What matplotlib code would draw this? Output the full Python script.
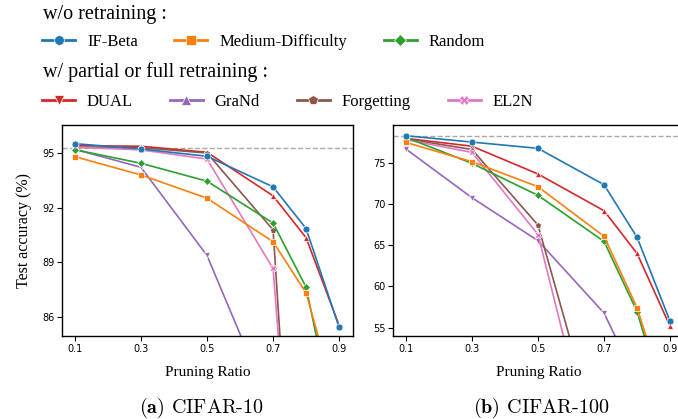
import matplotlib
matplotlib.use("Agg")
import matplotlib.pyplot as plt
from matplotlib.lines import Line2D

# ---------------- data ----------------
ratios = [0.1, 0.3, 0.5, 0.7, 0.8, 0.9]
xticks = [0.1, 0.3, 0.5, 0.7, 0.9]

# CIFAR-10
c10_ifbeta = [95.49, 95.20, 94.80, 93.13, 90.85, 85.45]
c10_medium = [94.78, 93.78, 92.51, 90.13, 87.33, 80.9]
c10_random = [95.16, 94.42, 93.44, 91.15, 87.65, 79.0]
c10_dual = [95.38, 95.35, 95.02, 92.64, 90.35, 85.55]
c10_grand = [95.18, 94.20, 89.38, 80.8, 76.0, 70.0]
c10_forget = [95.30, 95.27, 94.98, 90.78, 63.0, 55.0]
c10_el2n = [95.30, 95.15, 94.65, 88.67, 65.8, 56.0]
c10_full = 95.24

# CIFAR-100
c100_ifbeta = [78.27, 77.50, 76.74, 72.33, 65.95, 55.77]
c100_medium = [77.46, 75.12, 72.09, 66.07, 57.42, 44.7]
c100_random = [78.07, 74.92, 71.04, 65.46, 56.94, 43.5]
c100_dual = [77.95, 77.00, 73.63, 69.18, 64.00, 55.16]
c100_grand = [76.66, 70.76, 65.55, 56.78, 48.4, 40.0]
c100_forget = [77.90, 76.60, 67.44, 39.0, 30.0, 25.0]
c100_el2n = [77.80, 76.25, 66.30, 34.3, 28.0, 22.0]
c100_full = 78.27

colors = {
    "IF-Beta": "#1f77b4", "Medium-Difficulty": "#ff7f0e", "Random": "#2ca02c",
    "DUAL": "#d62728", "GraNd": "#9467bd", "Forgetting": "#8c564b", "EL2N": "#e377c2",
}

plt.rcParams["mathtext.fontset"] = "cm"

fig = plt.figure(figsize=(6.78, 4.19), dpi=100)
axL = fig.add_axes([62 / 678, 83 / 419, 291 / 678, 211 / 419])
axR = fig.add_axes([393 / 678, 83 / 419, 291 / 678, 211 / 419])

def draw(ax, d, full, ylim, yticks):
    common = dict(lw=1.2, mec="white", mew=0.5, clip_on=True)
    ax.plot(ratios, d["DUAL"], color=colors["DUAL"], marker="^", ms=4.5, **common)
    ax.plot(ratios, d["GraNd"], color=colors["GraNd"], marker="v", ms=4.5, **common)
    ax.plot(ratios, d["Forgetting"], color=colors["Forgetting"], marker="p", ms=5, **common)
    ax.plot(ratios, d["EL2N"], color=colors["EL2N"], marker="X", ms=5, **common)
    ax.plot(ratios, d["Random"], color=colors["Random"], marker="D", ms=4.5, **common)
    ax.plot(ratios, d["Medium-Difficulty"], color=colors["Medium-Difficulty"], marker="s", ms=5, **common)
    ax.plot(ratios, d["IF-Beta"], color=colors["IF-Beta"], marker="o", ms=5, **common)
    ax.axhline(full, color="#aaaaaa", ls="--", lw=1.0, zorder=0.5)
    ax.set_xlim(0.061, 0.942)
    ax.set_ylim(*ylim)
    ax.set_xticks(xticks)
    ax.set_xticklabels([f"{v:.1f}" for v in xticks])
    ax.set_yticks(yticks)
    ax.tick_params(labelsize=7, length=3.5, width=0.8, pad=2)
    for s in ax.spines.values():
        s.set_linewidth(1.0)
        s.set_color("black")
    ax.set_xlabel("Pruning Ratio", fontsize=11, family="Liberation Serif", labelpad=9)

draw(axL, {"IF-Beta": c10_ifbeta, "Medium-Difficulty": c10_medium, "Random": c10_random,
           "DUAL": c10_dual, "GraNd": c10_grand, "Forgetting": c10_forget, "EL2N": c10_el2n},
     c10_full, (84.98, 96.51), [86, 89, 92, 95])
draw(axR, {"IF-Beta": c100_ifbeta, "Medium-Difficulty": c100_medium, "Random": c100_random,
           "DUAL": c100_dual, "GraNd": c100_grand, "Forgetting": c100_forget, "EL2N": c100_el2n},
     c100_full, (54.0, 79.57), [55, 60, 65, 70, 75])
axL.set_ylabel("Test accuracy (%)", fontsize=11.5, family="Liberation Serif", labelpad=7)

# captions
fig.text(202 / 678, 1 - 408 / 419, r"$\mathbf{(a)}$ CIFAR-10", ha="center", va="center",
         fontsize=14.5, family="cmr10")
fig.text(541 / 678, 1 - 408 / 419, r"$\mathbf{(b)}$ CIFAR-100", ha="center", va="center",
         fontsize=14.5, family="cmr10")

# legend headers
fig.text(43 / 678, 1 - 14 / 419, "w/o retraining :", ha="left", va="center",
         fontsize=14.5, family="Liberation Serif")
fig.text(43 / 678, 1 - 72 / 419, "w/ partial or full retraining :", ha="left", va="center",
         fontsize=14.5, family="Liberation Serif")

def h(name, marker, ms):
    return Line2D([], [], color=colors[name], marker=marker, ms=ms, lw=2.0, mec="white", mew=0.5, label=name)

row1 = [h("IF-Beta", "o", 7), h("Medium-Difficulty", "s", 7), h("Random", "D", 6.5)]
row2 = [h("DUAL", "v", 7), h("GraNd", "^", 7), h("Forgetting", "p", 7), h("EL2N", "X", 7)]
legprops = dict(family="Liberation Serif", size=12)
lg1 = fig.legend(handles=row1, loc="center left", bbox_to_anchor=(42 / 678, 1 - 42 / 419),
                 ncol=3, frameon=False, prop=legprops, handlelength=1.98, handletextpad=0.72,
                 columnspacing=2.2, borderaxespad=0, borderpad=0)
lg2 = fig.legend(handles=row2, loc="center left", bbox_to_anchor=(42 / 678, 1 - 102 / 419),
                 ncol=4, frameon=False, prop=legprops, handlelength=1.98, handletextpad=0.72,
                 columnspacing=2.2, borderaxespad=0, borderpad=0)

fig.savefig("out.png", dpi=100)
